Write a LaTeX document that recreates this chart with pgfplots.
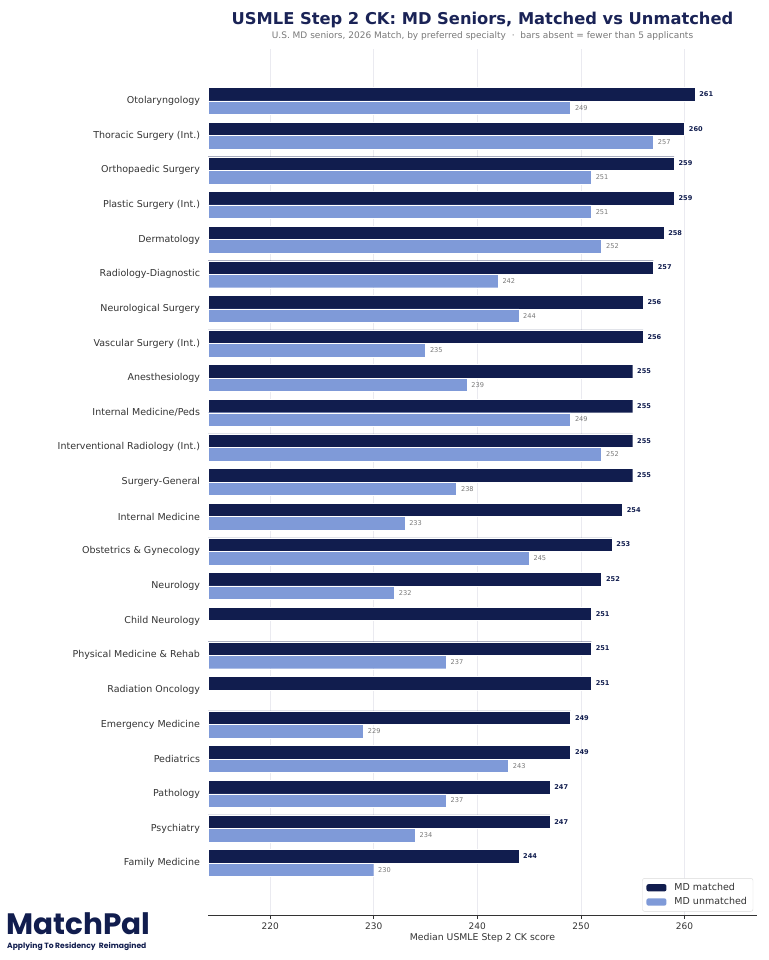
\documentclass[border=0pt]{standalone}
\usepackage{fontspec}
\setmainfont{DejaVu Sans}
\newfontfamily\logofont{Poppins}
\usepackage{pgfplots}
\pgfplotsset{compat=1.18}
\definecolor{navy}{RGB}{17,29,78}
\definecolor{lightblue}{RGB}{127,154,216}
\definecolor{titlenavy}{RGB}{26,35,86}
\definecolor{subgray}{RGB}{120,120,120}
\definecolor{labgray}{RGB}{51,51,51}
\definecolor{gridgray}{RGB}{234,234,240}

\begin{document}
\begin{tikzpicture}[x=1pt,y=1pt]
% page frame: 768 x 960 px, 1px = 1pt
\path (0,0) rectangle (768,960);

% title block
\node[font=\bfseries\fontsize{16.3}{18}\selectfont,text=titlenavy] at (482.5,940) {USMLE Step 2 CK: MD Seniors, Matched vs Unmatched};
\node[font=\fontsize{9}{10}\selectfont,text=subgray] at (482.5,923.5) {U.S. MD seniors, 2026 Match, by preferred specialty \ · \ bars absent = fewer than 5 applicants};

\begin{axis}[
    at={(208pt,45pt)}, anchor=south west,
    scale only axis,
    width=549pt, height=866pt,
    xbar,
    bar width=0.39,
    xmin=214, xmax=267,
    ymin=-1.5, ymax=23.5,
    y dir=reverse,
    xtick={220,230,240,250,260},
    xtick pos=lower,
    ytick={0,...,22},
    yticklabels={Otolaryngology,Thoracic Surgery (Int.),Orthopaedic Surgery,Plastic Surgery (Int.),Dermatology,Radiology-Diagnostic,Neurological Surgery,Vascular Surgery (Int.),Anesthesiology,Internal Medicine/Peds,Interventional Radiology (Int.),Surgery-General,Internal Medicine,Obstetrics \& Gynecology,Neurology,Child Neurology,Physical Medicine \& Rehab,Radiation Oncology,Emergency Medicine,Pediatrics,Pathology,Psychiatry,Family Medicine},
    axis line style={draw=none},
    xtick style={draw=labgray,line width=0.6pt},
    ytick style={draw=none},
    tick align=outside,
    major tick length=3.5pt,
    xmajorgrids,
    major grid style={draw=gridgray,line width=0.6pt},
    xticklabel style={font=\fontsize{9}{10}\selectfont,text=labgray,yshift=-1pt},
    yticklabel style={font=\fontsize{9.5}{10}\selectfont,text=labgray,xshift=-1pt},
    /pgf/number format/assume math mode=true,
    xlabel={Median USMLE Step 2 CK score},
    xlabel style={font=\fontsize{9.3}{11}\selectfont,text=labgray,yshift=3pt},
    legend style={at={(0.993,0.004)},anchor=south east,draw=black!15,rounded corners=2pt,
        font=\fontsize{9.5}{11}\selectfont,text=labgray,inner xsep=4pt,inner ysep=3pt,
        row sep=1.5pt,/tikz/every odd column/.append style={column sep=6pt}},
    legend cell align=left,
    legend image code/.code={\fill[#1,draw=none] (0pt,-3.6pt) rectangle (20pt,3.6pt);},
    nodes near coords,
    clip=false,
]
\addplot[fill=navy,draw=white,line width=0.3pt,bar shift=-0.195,
    every node near coord/.append style={font=\bfseries\fontsize{6.6}{7}\selectfont,text=navy,anchor=west,xshift=1pt}]
    coordinates {
    (261,0) (260,1) (259,2) (259,3) (258,4) (257,5) (256,6) (256,7)
    (255,8) (255,9) (255,10) (255,11) (254,12) (253,13) (252,14) (251,15)
    (251,16) (251,17) (249,18) (249,19) (247,20) (247,21) (244,22)
    };
\addlegendentry{MD matched}
\addplot[fill=lightblue,draw=white,line width=0.3pt,bar shift=0.195,
    every node near coord/.append style={font=\fontsize{6.6}{7}\selectfont,text=subgray,anchor=west,xshift=1pt}]
    coordinates {
    (249,0) (257,1) (251,2) (251,3) (252,4) (242,5) (244,6) (235,7)
    (239,8) (249,9) (252,10) (238,11) (233,12) (245,13) (232,14)
    (237,16) (229,18) (243,19) (237,20) (234,21) (230,22)
    };
\addlegendentry{MD unmatched}
% bottom spine
\draw[labgray,line width=0.9pt] (rel axis cs:0,0) -- (rel axis cs:1,0);
\end{axis}

% logo
\node[anchor=base west,inner sep=0pt,font=\logofont\bfseries\fontsize{29.5}{30}\selectfont,text=navy] at (6,25) {MatchPal};
\node[anchor=base west,inner sep=0pt,font=\logofont\bfseries\fontsize{7.6}{8}\selectfont,text=navy] at (7,11) {Applying To Residency\ \ Reimagined};
\end{tikzpicture}
\end{document}
